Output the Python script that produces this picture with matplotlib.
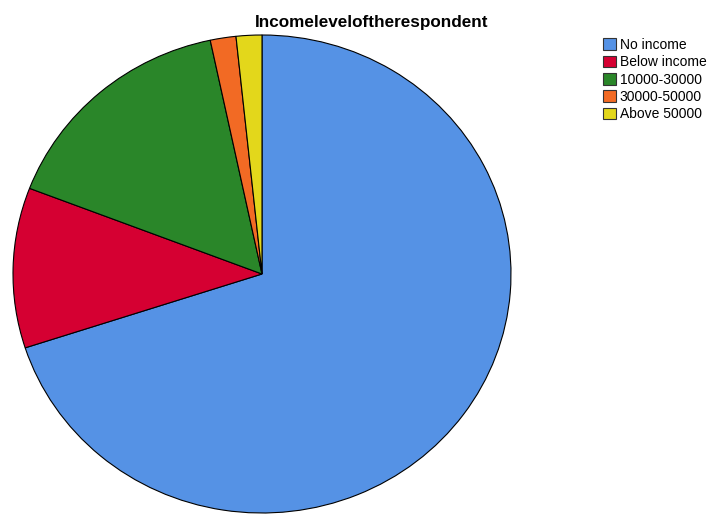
import matplotlib.pyplot as plt
from matplotlib.patches import Patch

plt.rcParams['font.family'] = ['Liberation Sans', 'DejaVu Sans']

categorias = ['No income', 'Below income', '10000-30000', '30000-50000', 'Above 50000']
valores = [84, 13, 19, 2, 2]
colores = ['#5592E5', '#D50032', '#2A8629', '#F26A24', '#E3D71B']

fig = plt.figure(figsize=(7.10, 5.16), dpi=100)
W, H = 710, 516

# ejes en pixeles (la torta es levemente eliptica en el original)
ax = fig.add_axes([13 / W, (H - 513) / H, 498 / W, 478 / H])
ax.pie(valores, colors=colores, startangle=90, counterclock=False,
       wedgeprops={'edgecolor': 'black', 'linewidth': 0.8})
ax.set_aspect('auto')
ax.set_xlim(-1.0, 1.0)
ax.set_ylim(-1.0, 1.0)
ax.axis('off')

fig.text(372 / W, 1 - 22 / H, 'Incomeleveloftherespondent', ha='center', va='center',
         fontsize=12.3, fontweight='bold')

handles = [Patch(facecolor=c, edgecolor='#333333', linewidth=0.8) for c in colores]
fig.legend(handles, categorias, loc='upper left', bbox_to_anchor=(603 / W, 1 - 38 / H),
           frameon=False, fontsize=10, handlelength=0.9, handleheight=0.9,
           handletextpad=0.3, labelspacing=0.24, borderpad=0, borderaxespad=0)

fig.savefig('out.png', dpi=100)
